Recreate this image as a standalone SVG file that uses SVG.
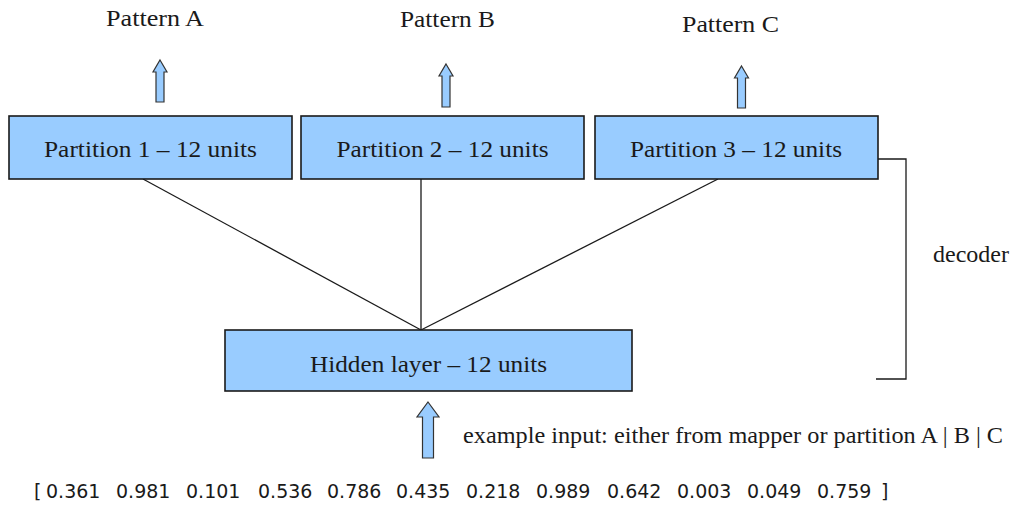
<svg xmlns="http://www.w3.org/2000/svg" width="1017" height="507" viewBox="0 0 1017 507">
<style>
.box{fill:#99ccff;stroke:#1a1a1a;stroke-width:1.6}
.lbl{font-family:"Liberation Serif","Times New Roman",serif;font-size:24px;fill:#1a1a1a}
.num{font-family:"DejaVu Sans",Verdana,sans-serif;font-size:19px;fill:#1a1a1a}
.arr{fill:#99ccff;stroke:#333;stroke-width:1.2;stroke-linejoin:miter}
.con{stroke:#1a1a1a;stroke-width:1.3;fill:none}
</style>
<rect width="1017" height="507" fill="#fff"/>
<g id="connectors">
<line class="con" x1="143" y1="179" x2="421" y2="330"/>
<line class="con" x1="421" y1="179" x2="421" y2="330"/>
<line class="con" x1="718" y1="179" x2="421" y2="330"/>
<polyline class="con" points="878,159 906,159 906,379 876,379" stroke-width="1.5"/>
</g>
<g id="partition1">
<rect class="box" x="9" y="116" width="283" height="63"/>
<text class="lbl" x="150.5" y="157" text-anchor="middle" textLength="213" lengthAdjust="spacingAndGlyphs">Partition 1 – 12 units</text>
</g>
<g id="partition2">
<rect class="box" x="301" y="116" width="283" height="63"/>
<text class="lbl" x="442.5" y="157" text-anchor="middle" textLength="212" lengthAdjust="spacingAndGlyphs">Partition 2 – 12 units</text>
</g>
<g id="partition3">
<rect class="box" x="595" y="116" width="283" height="63"/>
<text class="lbl" x="736" y="157" text-anchor="middle" textLength="212" lengthAdjust="spacingAndGlyphs">Partition 3 – 12 units</text>
</g>
<g id="hidden">
<rect class="box" x="225" y="330" width="407" height="61"/>
<text class="lbl" x="428.5" y="372" text-anchor="middle" textLength="237" lengthAdjust="spacingAndGlyphs">Hidden layer – 12 units</text>
</g>
<g id="patternA">
<path class="arr" d="M160,60 L167,72 L164,72 L164,102 L156,102 L156,72 L153,72 Z"/>
<text class="lbl" x="155" y="26" text-anchor="middle" textLength="98" lengthAdjust="spacingAndGlyphs">Pattern A</text>
</g>
<g id="patternB">
<path class="arr" d="M446,64 L453,76 L450,76 L450,107 L442,107 L442,76 L439,76 Z"/>
<text class="lbl" x="447.5" y="27" text-anchor="middle" textLength="95" lengthAdjust="spacingAndGlyphs">Pattern B</text>
</g>
<g id="patternC">
<path class="arr" d="M741.5,66 L748.5,78 L745.5,78 L745.5,108 L737.5,108 L737.5,78 L734.5,78 Z"/>
<text class="lbl" x="730.5" y="32" text-anchor="middle" textLength="97" lengthAdjust="spacingAndGlyphs">Pattern C</text>
</g>
<g id="decoder">
<text class="lbl" x="933" y="262" textLength="76" lengthAdjust="spacingAndGlyphs">decoder</text>
</g>
<g id="input">
<path class="arr" d="M428,402 L439,417 L433.5,417 L433.5,458 L422.5,458 L422.5,417 L417,417 Z"/>
<text class="lbl" x="463" y="443" textLength="540" lengthAdjust="spacingAndGlyphs">example input: either from mapper or partition A | B | C</text>
</g>
<g id="vector">
<text class="num" y="498">
<tspan x="34">[</tspan><tspan x="46">0.361</tspan><tspan x="116">0.981</tspan><tspan x="186">0.101</tspan><tspan x="258">0.536</tspan><tspan x="327">0.786</tspan><tspan x="396">0.435</tspan><tspan x="466">0.218</tspan><tspan x="536">0.989</tspan><tspan x="607">0.642</tspan><tspan x="677">0.003</tspan><tspan x="747">0.049</tspan><tspan x="817">0.759</tspan><tspan x="881">]</tspan>
</text>
</g>
</svg>
